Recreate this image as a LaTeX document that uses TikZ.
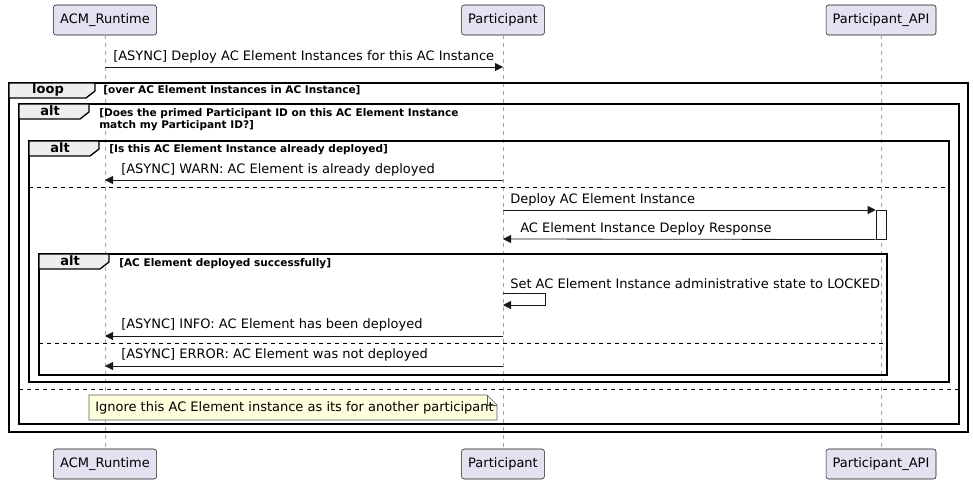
\documentclass[tikz,border=0pt]{standalone}
\usepackage{fontspec}
\setmainfont{DejaVu Sans}
\usetikzlibrary{arrows.meta,positioning}
\definecolor{pbox}{HTML}{E2E2F0}
\definecolor{bord}{HTML}{181818}
\definecolor{notef}{HTML}{FEFFDD}
\definecolor{tabf}{HTML}{EEEEEE}
\tikzset{
 x=0.75pt,y=-0.75pt,
 part/.style={draw=bord,fill=pbox,rounded corners=2pt,minimum height=22.5pt,inner xsep=5pt,font=\fontsize{9.75}{11}\selectfont},
 life/.style={draw=gray!70,dashed,line width=0.4pt},
 msg/.style={draw=bord,line width=0.6pt,-{Triangle[length=6pt,width=6pt]}},
 mlab/.style={font=\fontsize{9.75}{11}\selectfont,inner sep=0pt,anchor=south west},
 frame/.style={draw=black,line width=1pt},
 sep/.style={draw=black,dashed,line width=0.5pt},
 cond/.style={font=\bfseries\fontsize{7.9}{9.5}\selectfont,inner sep=0pt,anchor=north west,align=left},
 tabl/.style={font=\bfseries\fontsize{9.75}{11}\selectfont,inner sep=0pt},
}
\newcommand{\frm}[6]{% x1,y1,x2,y2,tabw,label
 \draw[frame] (#1,#2) rectangle (#3,#4);
 \draw[frame,fill=tabf] (#1,#2) -- (#1+#5,#2) -- (#1+#5,#2+8) -- (#1+#5-9,#2+15) -- (#1,#2+15) -- cycle;
 \node[tabl] at (#1+#5/2-4,#2+7) {#6};
}
\begin{document}
\begin{tikzpicture}
\useasboundingbox (0,0) rectangle (973,483);
\node[part] (rt) at (105,20) {ACM\_Runtime};
\node[part] (pa) at (503,20) {Participant};
\node[part] (api) at (881,20) {Participant\_API};
\node[part] (rb) at (105,464) {ACM\_Runtime};
\node[part] (pb) at (503,464) {Participant};
\node[part] (apib) at (881,464) {Participant\_API};
\draw[life] (rt) -- (rb);
\draw[life] (pa) -- (pb);
\draw[life] (api) -- (apib);

\coordinate (r1) at (105,67); \coordinate (p1) at (503,67);
\draw[msg] (r1) -- (p1);
\node[mlab] at (113,63) {[ASYNC] Deploy AC Element Instances for this AC Instance};

\frm{9}{83}{968}{432}{86}{loop}
\node[cond] at (103,85) {[over AC Element Instances in AC Instance]};
\frm{19}{104}{959}{424}{70}{alt}
\node[cond] at (99,108) {[Does the primed Participant ID on this AC Element Instance\\match my Participant ID?]};
\frm{29}{141}{949}{382}{70}{alt}
\node[cond] at (109,144) {[Is this AC Element Instance already deployed]};

\coordinate (p2) at (503,180); \coordinate (r2) at (105,180);
\draw[msg] (p2) -- (r2);
\node[mlab] at (121,176) {[ASYNC] WARN: AC Element is already deployed};
\draw[sep] (29,187) -- (949,187);

\node[draw=bord,fill=white,minimum width=7.5pt,minimum height=21.75pt,inner sep=0pt,anchor=north] (act) at (881,210) {};
\coordinate (p3) at (503,210);
\draw[msg] (p3) -- (act.north west);
\node[mlab] at (510,206) {Deploy AC Element Instance};
\coordinate (p4) at (503,239);
\draw[msg] (act.south west) -- (p4);
\node[mlab] at (520,235) {AC Element Instance Deploy Response};

\frm{39}{254}{887}{375}{70}{alt}
\node[cond] at (119,258) {[AC Element deployed successfully]};
\coordinate (s1) at (503,293); \coordinate (s2) at (503,305);
\draw[msg] (s1) -- (545,293) -- (545,305) -- (s2);
\node[mlab] at (510,289) {Set AC Element Instance administrative state to LOCKED};
\coordinate (p5) at (503,336); \coordinate (r5) at (105,336);
\draw[msg] (p5) -- (r5);
\node[mlab] at (121,331) {[ASYNC] INFO: AC Element has been deployed};
\draw[sep] (39,343) -- (887,343);
\coordinate (p6) at (503,366); \coordinate (r6) at (105,366);
\draw[msg] (p6) -- (r6);
\node[mlab] at (121,361) {[ASYNC] ERROR: AC Element was not deployed};
\draw[sep] (19,389) -- (959,389);

\draw[draw=bord!70,fill=notef,line width=0.5pt] (89,395) -- (487,395) -- (497,405) -- (497,420) -- (89,420) -- cycle;
\draw[draw=bord!70,line width=0.5pt] (487,395) -- (487,405) -- (497,405);
\node[mlab,anchor=west] (note) at (95,408) {Ignore this AC Element instance as its for another participant};
\end{tikzpicture}
\end{document}
